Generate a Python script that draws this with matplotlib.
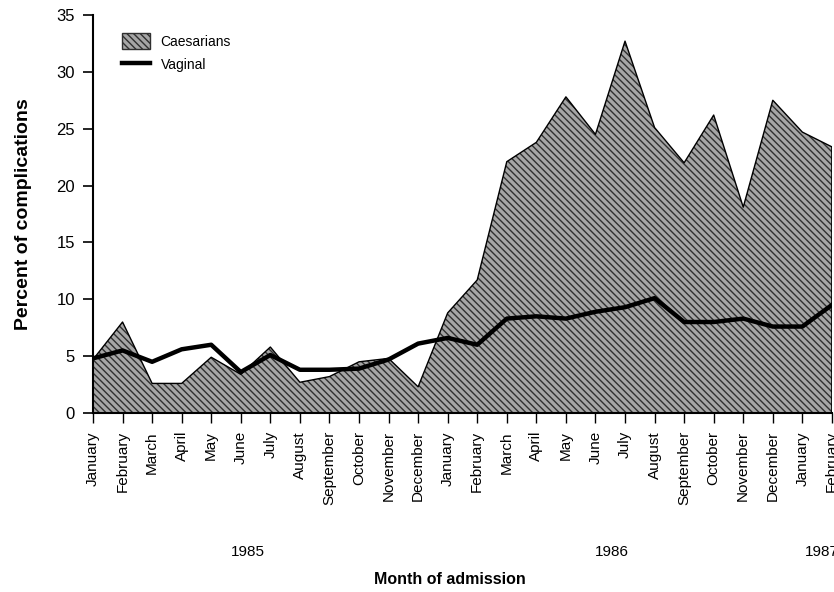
import numpy as np
import matplotlib
matplotlib.use("Agg")
import matplotlib.pyplot as plt
from matplotlib.patches import Patch
from matplotlib.lines import Line2D
import matplotlib.transforms as mtransforms

plt.rcParams['font.family'] = ['Liberation Sans', 'DejaVu Sans']
plt.rcParams['hatch.linewidth'] = 1.0

# month labels, Jan 1985 .. Feb 1987
months = ['January', 'February', 'March', 'April', 'May', 'June', 'July',
          'August', 'September', 'October', 'November', 'December',
          'January', 'February', 'March', 'April', 'May', 'June', 'July',
          'August', 'September', 'October', 'November', 'December',
          'January', 'February']
years = ['1985', '1986', '1987']
year_pos = [5.25, 17.55, 24.65]

# percent of complications
caesarians = [4.7, 8.0, 2.6, 2.6, 4.9, 3.4, 5.8, 2.7, 3.2, 4.5, 4.8, 2.3,
              8.8, 11.7, 22.1, 23.8, 27.8, 24.5, 32.7, 25.1, 22.0, 26.2,
              18.1, 27.5, 24.7, 23.4]
vaginal = [4.8, 5.5, 4.5, 5.6, 6.0, 3.6, 5.1, 3.8, 3.8, 3.9, 4.7, 6.1,
           6.6, 6.0, 8.3, 8.5, 8.3, 8.9, 9.3, 10.1, 8.0, 8.0, 8.3, 7.6,
           7.6, 9.5]

x = np.arange(len(months))
fill_col = '#a6a6a6'
hatch_col = '#303030'
hatch = '\\\\\\\\\\'

fig = plt.figure(figsize=(8.34, 5.92), dpi=100)
ax = fig.add_axes([0.1115, 0.3024, 0.886, 0.6723])

# caesarians: hatched grey area
ax.fill_between(x, 0, caesarians, facecolor=fill_col, edgecolor=hatch_col,
                hatch=hatch, linewidth=0)
ax.plot(x, caesarians, color='black', lw=1.0)
ax.plot([x[-1], x[-1]], [0, caesarians[-1]], color='black', lw=1.2)

# vaginal: thick black line
ax.plot(x, vaginal, color='black', lw=3.2, solid_joinstyle='round')

ax.set_xlim(0, len(months) - 1)
ax.set_ylim(0, 35)
ax.set_yticks(np.arange(0, 36, 5))
ax.set_xticks(x)
ax.set_xticklabels(months, rotation=90, fontsize=11)
ax.tick_params(axis='y', labelsize=12, length=7, width=1.2, direction='out', pad=6)
ax.tick_params(axis='x', length=7, width=1.0, direction='out', pad=6)

for s in ['top', 'right']:
    ax.spines[s].set_visible(False)
ax.spines['left'].set_linewidth(1.5)
ax.spines['bottom'].set_linewidth(1.5)

trans = mtransforms.blended_transform_factory(ax.transData, ax.transAxes)
for yr, pos in zip(years, year_pos):
    ax.text(pos, -0.35, yr, transform=trans, ha='center', va='center', fontsize=11)

ax.set_xlabel('Month of admission', fontsize=11.5, fontweight='bold')
ax.xaxis.set_label_coords(0.483, -0.40)
ax.set_ylabel('Percent of complications', fontsize=14, fontweight='bold')
ax.yaxis.set_label_coords(-0.083, 0.5)

handles = [Patch(facecolor=fill_col, edgecolor=hatch_col, hatch=hatch, linewidth=1),
           Line2D([0], [0], color='black', lw=3.2)]
leg = ax.legend(handles, ['Caesarians', 'Vaginal'], loc='upper left',
                bbox_to_anchor=(0.022, 0.985), frameon=False, fontsize=10,
                handlelength=2.0, handleheight=1.4, labelspacing=0.5)

fig.savefig('out.png', dpi=100)
